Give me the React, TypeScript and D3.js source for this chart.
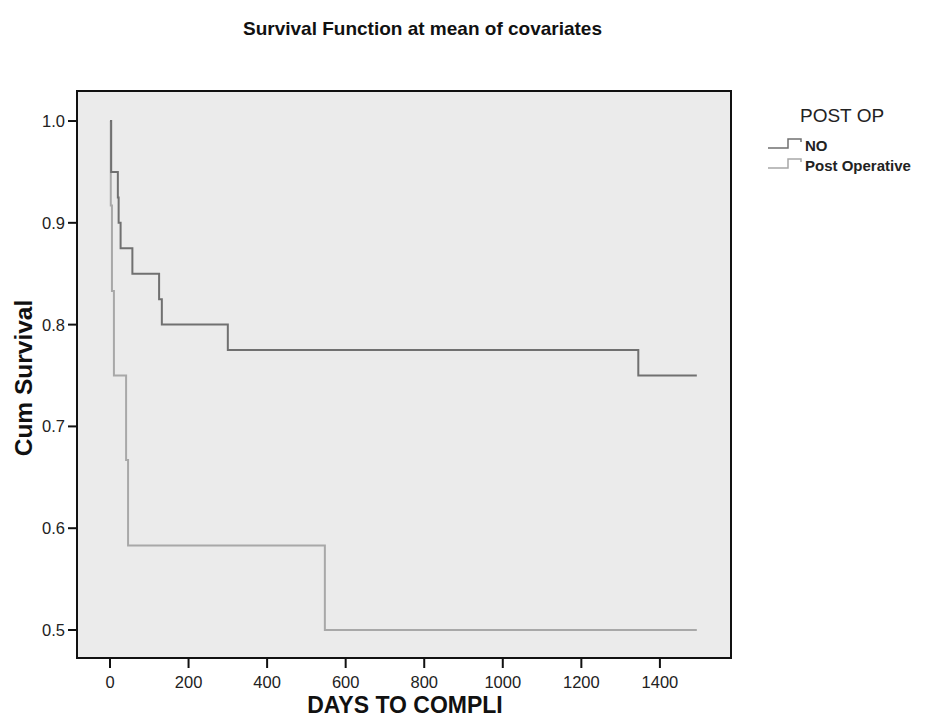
import React from "react";
import * as d3 from "d3";

const noTimes = [0, 3, 20, 22, 27, 57, 125, 132, 300, 1345, 1494];
const noValues = [1.0, 0.95, 0.925, 0.9, 0.875, 0.85, 0.825, 0.8, 0.775, 0.75, 0.75];
const postTimes = [0, 2, 5, 10, 41, 46, 547, 1494];
const postValues = [1.0, 0.917, 0.833, 0.75, 0.667, 0.583, 0.5, 0.5];
const xTicks = [0, 200, 400, 600, 800, 1000, 1200, 1400];
const yTicks = [0.5, 0.6, 0.7, 0.8, 0.9, 1.0];
const legendLabels = ["NO", "Post Operative"];
const seriesColors = ["#707070", "#a8a8a8"];

const W = 926, H = 721;
const plot = { left: 77, top: 91, right: 731, bottom: 658 };

export default function App() {
  const x = d3.scaleLinear().domain([-84, 1581]).range([plot.left, plot.right]);
  const y = d3.scaleLinear().domain([0.4725, 1.0295]).range([plot.bottom, plot.top]);
  const line = d3.line<[number, number]>().x(d => x(d[0])).y(d => y(d[1])).curve(d3.curveStepAfter);
  const noData: [number, number][] = noTimes.map((t, i) => [t, noValues[i]]);
  const postData: [number, number][] = postTimes.map((t, i) => [t, postValues[i]]);
  const font = "Arial, 'Liberation Sans', sans-serif";
  return (
    <svg width={W} height={H} style={{ position: "absolute", left: 0, top: 0, background: "#fff" }} fontFamily={font}>
      <text x={243} y={35} textAnchor="start" fontWeight="bold" fontSize={19} fill="#111">Survival Function at mean of covariates</text>
      <rect x={plot.left} y={plot.top} width={plot.right - plot.left} height={plot.bottom - plot.top} fill="#ebebeb" stroke="none" />
      <path d={line(postData) || ""} fill="none" stroke={seriesColors[1]} strokeWidth={2} />
      <path d={line(noData) || ""} fill="none" stroke={seriesColors[0]} strokeWidth={2} />
      <rect x={plot.left} y={plot.top} width={plot.right - plot.left} height={plot.bottom - plot.top} fill="none" stroke="#111" strokeWidth={2} />
      {yTicks.map(t => (
        <g key={t}>
          <line x1={plot.left - 9} x2={plot.left} y1={y(t)} y2={y(t)} stroke="#111" strokeWidth={2} />
          <text x={plot.left - 12} y={y(t)} dy="0.36em" textAnchor="end" fontSize={16.5} fill="#222">{t.toFixed(1)}</text>
        </g>
      ))}
      {xTicks.map(t => (
        <g key={t}>
          <line x1={x(t)} x2={x(t)} y1={plot.bottom} y2={plot.bottom + 10} stroke="#111" strokeWidth={2} />
          <text x={x(t)} y={688} textAnchor="middle" fontSize={16.5} fill="#222">{t}</text>
        </g>
      ))}
      <text x={405} y={713} textAnchor="middle" fontWeight="bold" fontSize={23} fill="#111">DAYS TO COMPLI</text>
      <text transform={`translate(32,378) rotate(-90)`} textAnchor="middle" fontWeight="bold" fontSize={24.5} fill="#111">Cum Survival</text>
      <text x={800} y={122} fontSize={19} fill="#222">POST OP</text>
      {legendLabels.map((lab, i) => {
        const ly = 146 + i * 20;
        return (
          <g key={lab}>
            <path d={`M768,${ly + 2}H788V${ly - 7}H801V${ly - 4}`} fill="none" stroke={seriesColors[i]} strokeWidth={1.5} />
            <text x={805} y={ly} dy="0.36em" fontSize={15} fontWeight="bold" fill="#222">{lab}</text>
          </g>
        );
      })}
    </svg>
  );
}
